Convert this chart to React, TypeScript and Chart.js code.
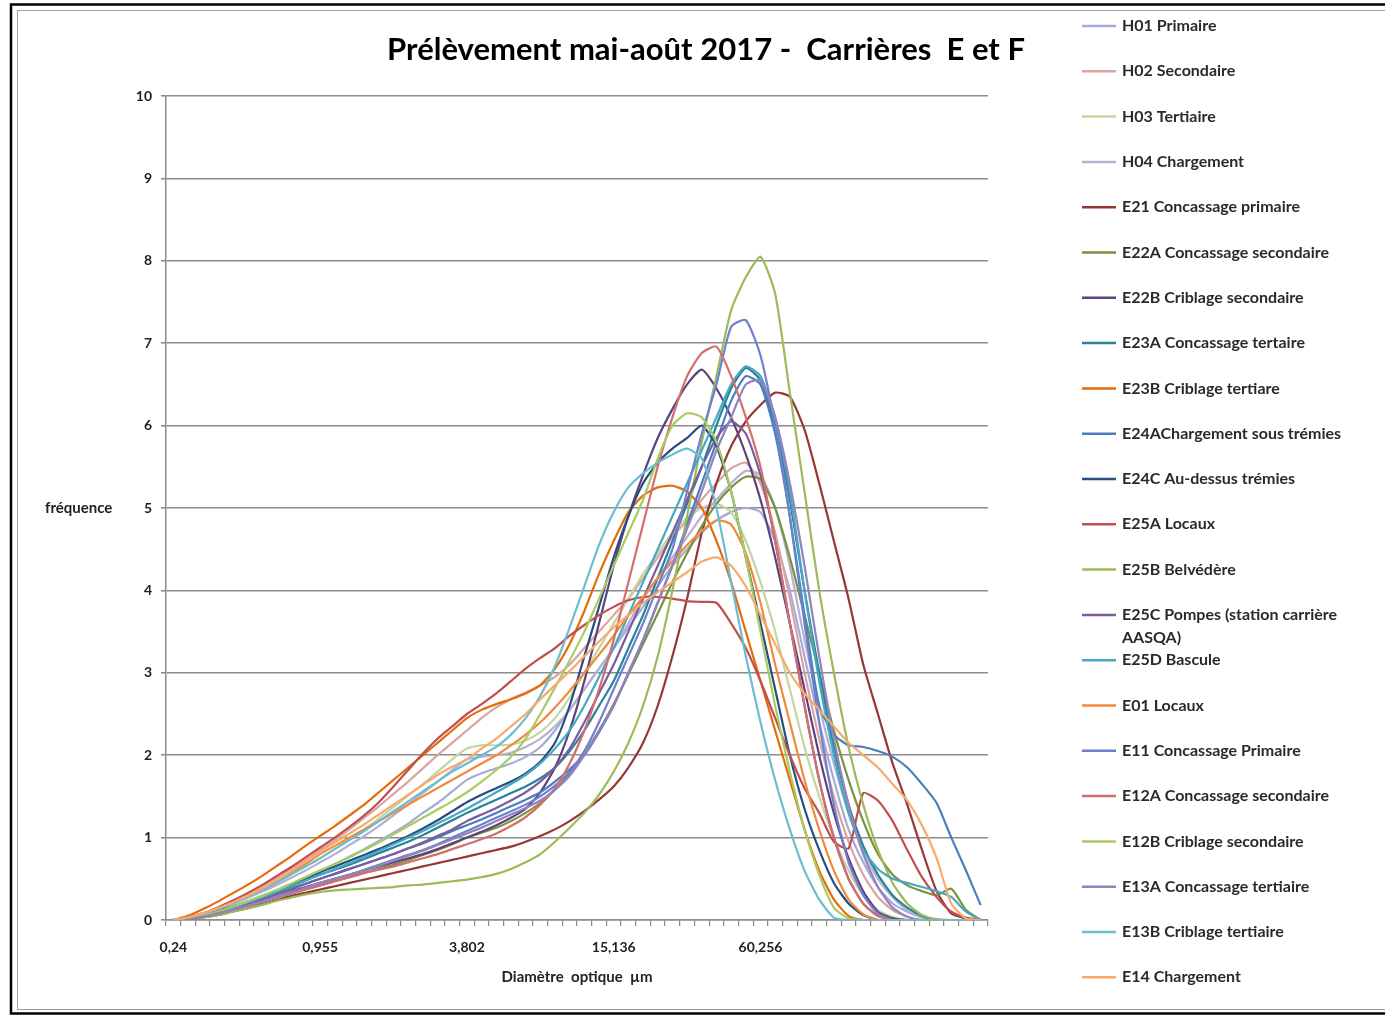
import React, { useEffect, useRef } from 'react';
import { Chart, registerables } from 'chart.js';

Chart.register(...registerables);

// Diamètre optique (µm) – categories
const categories = [
  '0,24', '0,275', '0,316', '0,363', '0,417', '0,479', '0,55', '0,631', '0,724', '0,832',
  '0,955', '1,096', '1,259', '1,445', '1,66', '1,905', '2,188', '2,512', '2,884', '3,311',
  '3,802', '4,365', '5,012', '5,754', '6,607', '7,586', '8,71', '10', '11,482', '13,183',
  '15,136', '17,378', '19,953', '22,909', '26,303', '30,2', '34,674', '39,811', '45,709', '52,481',
  '60,256', '69,183', '79,433', '91,201', '104,713', '120,226', '138,038', '158,489', '181,97', '208,93',
  '239,883', '275,423', '316,228', '363,078', '416,869', '478,63',
];
const labelEvery = 10;
const lastLabelled = 40;
const yTicks = [0, 1, 2, 3, 4, 5, 6, 7, 8, 9, 10];

const title = 'Prélèvement mai-août 2017 -  Carrières  E et F';
const xTitle = 'Diamètre  optique  µm';
const yTitle = 'fréquence';

const seriesNames = [
  'H01 Primaire', 'H02 Secondaire', 'H03 Tertiaire', 'H04 Chargement',
  'E21 Concassage primaire', 'E22A Concassage secondaire', 'E22B Criblage secondaire',
  'E23A Concassage tertaire', 'E23B Criblage tertiare', 'E24AChargement sous trémies',
  'E24C Au-dessus trémies', 'E25A Locaux', 'E25B Belvédère',
  'E25C Pompes (station carrière AASQA)', 'E25D Bascule', 'E01 Locaux',
  'E11 Concassage Primaire', 'E12A Concassage secondaire', 'E12B Criblage secondaire',
  'E13A Concassage tertiaire', 'E13B Criblage tertiaire', 'E14 Chargement',
];

const seriesColors = [
  '#a3acd8', '#dba4a2', '#c4d6a0', '#b7b0cf',
  '#953735', '#77933c', '#5d437c',
  '#2a8299', '#e46c0a', '#4a7ebf',
  '#2a4d7f', '#c0504d', '#9bbb59',
  '#7a5c9f', '#45a9c4', '#f08a3c',
  '#6f80cc', '#d46e6c', '#a9cc62',
  '#9283bc', '#6cbcd2', '#f8aa6c',
];

const H01 = [0, 0.02, 0.06, 0.11, 0.16, 0.22, 0.29, 0.36, 0.43, 0.52, 0.6, 0.68, 0.77, 0.86, 0.96, 1.06, 1.17, 1.3, 1.42, 1.56, 1.7, 1.78, 1.84, 1.9, 1.98, 2.1, 2.3, 2.55, 2.8, 3.05, 3.3, 3.55, 3.8, 4.05, 4.3, 4.5, 4.7, 4.85, 4.95, 5.0, 4.95, 4.6, 4.0, 3.2, 2.4, 1.7, 1.1, 0.7, 0.4, 0.2, 0.1, 0.03, 0, 0, 0, 0];
const H02 = [0, 0.03, 0.08, 0.15, 0.23, 0.32, 0.41, 0.51, 0.62, 0.73, 0.85, 0.97, 1.1, 1.24, 1.38, 1.53, 1.68, 1.84, 2.0, 2.15, 2.3, 2.45, 2.58, 2.68, 2.76, 2.85, 2.95, 3.1, 3.3, 3.5, 3.7, 3.9, 4.15, 4.4, 4.65, 4.85, 5.1, 5.3, 5.48, 5.55, 5.3, 4.7, 3.9, 3.0, 2.2, 1.5, 0.95, 0.55, 0.28, 0.12, 0.04, 0, 0, 0, 0, 0];
const H03 = [0, 0.03, 0.07, 0.13, 0.2, 0.28, 0.36, 0.45, 0.55, 0.65, 0.75, 0.86, 0.98, 1.1, 1.23, 1.37, 1.51, 1.65, 1.8, 1.95, 2.08, 2.12, 2.12, 2.13, 2.18, 2.28, 2.45, 2.7, 3.0, 3.3, 3.6, 3.9, 4.2, 4.45, 4.7, 4.88, 5.0, 5.05, 4.95, 4.6, 4.1, 3.5, 2.8, 2.1, 1.5, 1.0, 0.6, 0.3, 0.12, 0.04, 0, 0, 0, 0, 0, 0];
const H04 = [0, 0.02, 0.06, 0.12, 0.19, 0.26, 0.34, 0.42, 0.51, 0.6, 0.7, 0.8, 0.91, 1.02, 1.14, 1.27, 1.4, 1.54, 1.68, 1.82, 1.95, 1.98, 2.0, 2.03, 2.1, 2.2, 2.35, 2.55, 2.8, 3.05, 3.3, 3.6, 3.9, 4.15, 4.4, 4.65, 4.9, 5.1, 5.3, 5.45, 5.4, 5.0, 4.3, 3.4, 2.6, 1.9, 1.3, 0.85, 0.5, 0.28, 0.12, 0.04, 0, 0, 0, 0];
const E21 = [0, 0.01, 0.03, 0.06, 0.1, 0.14, 0.19, 0.24, 0.29, 0.33, 0.37, 0.41, 0.45, 0.49, 0.53, 0.57, 0.61, 0.65, 0.69, 0.73, 0.77, 0.81, 0.85, 0.89, 0.95, 1.02, 1.1, 1.2, 1.32, 1.46, 1.62, 1.85, 2.15, 2.6, 3.2, 3.9, 4.7, 5.3, 5.75, 6.05, 6.25, 6.4, 6.35, 5.95, 5.3, 4.6, 3.9, 3.1, 2.5, 1.9, 1.4, 0.85, 0.35, 0.08, 0.02, 0];
const E22A = [0, 0.01, 0.04, 0.08, 0.12, 0.17, 0.22, 0.27, 0.32, 0.37, 0.42, 0.47, 0.52, 0.57, 0.62, 0.67, 0.73, 0.79, 0.85, 0.92, 1.0, 1.06, 1.12, 1.2, 1.3, 1.42, 1.58, 1.78, 2.02, 2.3, 2.62, 2.98, 3.35, 3.72, 4.1, 4.45, 4.78, 5.05, 5.25, 5.38, 5.35, 5.0, 4.4, 3.7, 3.0, 2.3, 1.7, 1.2, 0.8, 0.55, 0.42, 0.35, 0.3, 0.38, 0.12, 0];
const E22B = [0, 0.01, 0.04, 0.08, 0.13, 0.18, 0.23, 0.28, 0.34, 0.4, 0.45, 0.5, 0.55, 0.6, 0.65, 0.7, 0.75, 0.8, 0.86, 0.93, 1.0, 1.07, 1.15, 1.24, 1.35, 1.55, 1.85, 2.3, 2.9, 3.6, 4.3, 4.9, 5.4, 5.85, 6.2, 6.5, 6.68, 6.45, 6.1, 5.65, 5.1, 4.4, 3.6, 2.8, 2.0, 1.3, 0.75, 0.35, 0.1, 0.02, 0, 0, 0, 0, 0, 0];
const E23A = [0, 0.02, 0.05, 0.1, 0.15, 0.21, 0.27, 0.33, 0.4, 0.48, 0.55, 0.61, 0.67, 0.74, 0.81, 0.88, 0.95, 1.03, 1.12, 1.21, 1.3, 1.38, 1.46, 1.54, 1.62, 1.72, 1.85, 2.05, 2.3, 2.6, 2.9, 3.3, 3.7, 4.15, 4.6, 5.05, 5.5, 6.0, 6.45, 6.7, 6.55, 6.0, 5.1, 4.0, 3.0, 2.1, 1.4, 0.9, 0.55, 0.3, 0.15, 0.05, 0, 0, 0, 0];
const E23B = [0, 0.05, 0.13, 0.22, 0.32, 0.42, 0.53, 0.65, 0.77, 0.9, 1.02, 1.14, 1.27, 1.4, 1.55, 1.7, 1.85, 2.0, 2.15, 2.3, 2.45, 2.55, 2.62, 2.68, 2.75, 2.85, 3.05, 3.35, 3.75, 4.2, 4.6, 4.95, 5.15, 5.25, 5.27, 5.2, 5.0, 4.6, 4.1, 3.5, 2.9, 2.3, 1.7, 1.1, 0.6, 0.25, 0.05, 0, 0, 0, 0, 0, 0, 0, 0, 0];
const E24A = [0, 0.02, 0.05, 0.09, 0.14, 0.19, 0.25, 0.31, 0.37, 0.44, 0.5, 0.56, 0.62, 0.68, 0.74, 0.8, 0.87, 0.93, 1.0, 1.08, 1.15, 1.22, 1.3, 1.38, 1.46, 1.55, 1.68, 1.83, 2.0, 2.28, 2.6, 3.0, 3.4, 3.85, 4.3, 4.8, 5.3, 5.8, 6.3, 6.6, 6.5, 5.9, 4.9, 3.7, 2.6, 2.25, 2.12, 2.1, 2.05, 1.98, 1.85, 1.65, 1.42, 1.0, 0.6, 0.18];
const E24C = [0, 0.02, 0.06, 0.11, 0.16, 0.22, 0.28, 0.35, 0.42, 0.5, 0.58, 0.65, 0.72, 0.79, 0.86, 0.94, 1.02, 1.11, 1.21, 1.32, 1.43, 1.52, 1.6, 1.68, 1.78, 1.92, 2.15, 2.6, 3.2, 3.8, 4.4, 4.9, 5.3, 5.55, 5.72, 5.85, 6.0, 5.75, 5.2, 4.4, 3.6, 2.8, 2.0, 1.35, 0.85, 0.45, 0.2, 0.06, 0, 0, 0, 0, 0, 0, 0, 0];
const E25A = [0, 0.03, 0.08, 0.15, 0.23, 0.32, 0.42, 0.53, 0.64, 0.76, 0.88, 1.0, 1.13, 1.27, 1.43, 1.62, 1.82, 2.02, 2.2, 2.35, 2.5, 2.62, 2.75, 2.9, 3.05, 3.18, 3.3, 3.45, 3.58, 3.7, 3.8, 3.88, 3.92, 3.92, 3.9, 3.87, 3.86, 3.85, 3.6, 3.3, 2.9, 2.45, 2.0, 1.6, 1.3, 0.95, 0.87, 1.54, 1.45, 1.2, 0.85, 0.52, 0.28, 0.1, 0.03, 0];
const E25B = [0, 0.01, 0.03, 0.06, 0.1, 0.14, 0.18, 0.23, 0.27, 0.31, 0.34, 0.36, 0.37, 0.38, 0.39, 0.4, 0.42, 0.43, 0.45, 0.47, 0.49, 0.52, 0.56, 0.62, 0.7, 0.8, 0.95, 1.12, 1.3, 1.52, 1.8, 2.15, 2.6, 3.2, 4.0, 4.9, 5.8, 6.6, 7.4, 7.8, 8.05, 7.6, 6.4, 5.2, 4.0, 3.0, 2.1, 1.4, 0.85, 0.45, 0.2, 0.06, 0.01, 0, 0, 0];
const E25C = [0, 0.02, 0.05, 0.09, 0.14, 0.19, 0.25, 0.31, 0.37, 0.44, 0.5, 0.56, 0.62, 0.68, 0.74, 0.8, 0.87, 0.94, 1.02, 1.1, 1.2, 1.28, 1.36, 1.45, 1.55, 1.68, 1.85, 2.08, 2.4, 2.75, 3.1, 3.5, 3.9, 4.3, 4.7, 5.1, 5.5, 5.85, 6.05, 5.9, 5.4, 4.6, 3.6, 2.6, 1.7, 1.0, 0.5, 0.2, 0.05, 0, 0, 0, 0, 0, 0, 0];
const E25D = [0, 0.02, 0.05, 0.1, 0.15, 0.21, 0.27, 0.34, 0.41, 0.48, 0.55, 0.62, 0.69, 0.76, 0.84, 0.92, 1.0, 1.08, 1.17, 1.26, 1.35, 1.45, 1.55, 1.65, 1.76, 1.9, 2.08, 2.3, 2.6, 2.95, 3.3, 3.7, 4.1, 4.5, 4.9, 5.3, 5.7, 6.1, 6.5, 6.72, 6.6, 6.1, 5.2, 4.0, 2.9, 2.0, 1.3, 0.85, 0.62, 0.5, 0.45, 0.4, 0.35, 0.28, 0.1, 0];
const E01 = [0, 0.03, 0.08, 0.14, 0.21, 0.29, 0.38, 0.47, 0.57, 0.68, 0.8, 0.9, 1.0, 1.1, 1.2, 1.3, 1.4, 1.5, 1.6, 1.7, 1.8, 1.9, 2.0, 2.12, 2.25, 2.4, 2.58, 2.78, 3.0, 3.22, 3.45, 3.7, 3.92, 4.15, 4.35, 4.55, 4.72, 4.85, 4.8, 4.45, 3.85, 3.1, 2.4, 1.7, 1.1, 0.6, 0.25, 0.07, 0, 0, 0, 0, 0, 0, 0, 0];
const E11 = [0, 0.01, 0.04, 0.08, 0.12, 0.17, 0.22, 0.27, 0.33, 0.39, 0.45, 0.5, 0.55, 0.61, 0.67, 0.73, 0.79, 0.85, 0.92, 1.0, 1.08, 1.16, 1.24, 1.32, 1.4, 1.5, 1.63, 1.8, 2.05, 2.4, 2.8, 3.2, 3.6, 4.05, 4.5, 5.2, 5.9, 6.5, 7.2, 7.28, 6.85, 6.0, 4.9, 3.6, 2.4, 1.4, 0.7, 0.3, 0.08, 0, 0, 0, 0, 0, 0, 0];
const E12A = [0, 0.01, 0.04, 0.08, 0.12, 0.17, 0.22, 0.27, 0.32, 0.37, 0.42, 0.47, 0.52, 0.57, 0.61, 0.65, 0.7, 0.75, 0.8, 0.86, 0.92, 0.98, 1.05, 1.14, 1.25, 1.4, 1.6, 1.9, 2.3, 2.8, 3.4, 4.1, 4.8, 5.5, 6.1, 6.6, 6.88, 6.96, 6.6, 6.1, 5.5, 4.6, 3.6, 2.6, 1.7, 1.0, 0.5, 0.2, 0.05, 0, 0, 0, 0, 0, 0, 0];
const E12B = [0, 0.02, 0.05, 0.1, 0.16, 0.22, 0.29, 0.36, 0.44, 0.52, 0.6, 0.68, 0.76, 0.85, 0.94, 1.04, 1.14, 1.24, 1.34, 1.44, 1.55, 1.68, 1.82, 1.98, 2.2, 2.5, 2.82, 3.15, 3.5, 3.9, 4.3, 4.7, 5.1, 5.6, 6.0, 6.15, 6.1, 5.8, 5.2, 4.4, 3.5, 2.6, 1.8, 1.1, 0.55, 0.15, 0.02, 0, 0, 0, 0, 0, 0, 0, 0, 0];
const E13A = [0, 0.01, 0.04, 0.08, 0.12, 0.17, 0.22, 0.28, 0.33, 0.39, 0.45, 0.5, 0.55, 0.6, 0.66, 0.72, 0.78, 0.84, 0.91, 0.98, 1.05, 1.12, 1.2, 1.28, 1.36, 1.45, 1.58, 1.75, 2.0, 2.3, 2.6, 3.0, 3.4, 3.85, 4.3, 4.75, 5.2, 5.7, 6.1, 6.5, 6.55, 6.1, 5.3, 4.3, 3.2, 2.2, 1.4, 0.8, 0.4, 0.15, 0.04, 0, 0, 0, 0, 0];
const E13B = [0, 0.03, 0.07, 0.13, 0.2, 0.28, 0.36, 0.45, 0.55, 0.65, 0.75, 0.86, 0.97, 1.08, 1.2, 1.32, 1.44, 1.56, 1.68, 1.8, 1.9, 2.0, 2.1, 2.25, 2.45, 2.72, 3.08, 3.55, 4.05, 4.55, 4.95, 5.25, 5.42, 5.55, 5.65, 5.72, 5.6, 5.0, 4.1, 3.2, 2.4, 1.7, 1.1, 0.6, 0.25, 0.03, 0, 0, 0, 0, 0, 0, 0, 0, 0, 0];
const E14 = [0, 0.03, 0.08, 0.14, 0.21, 0.29, 0.38, 0.48, 0.59, 0.71, 0.83, 0.94, 1.05, 1.16, 1.28, 1.4, 1.52, 1.64, 1.76, 1.86, 1.95, 2.08, 2.2, 2.35, 2.5, 2.68, 2.85, 3.02, 3.2, 3.38, 3.55, 3.7, 3.85, 3.98, 4.1, 4.22, 4.35, 4.4, 4.3, 4.05, 3.7, 3.35, 3.0, 2.75, 2.55, 2.35, 2.15, 2.0, 1.85, 1.65, 1.45, 1.15, 0.75, 0.2, 0.02, 0];

const seriesValues = [
  H01, H02, H03, H04, E21, E22A, E22B, E23A, E23B, E24A, E24C,
  E25A, E25B, E25C, E25D, E01, E11, E12A, E12B, E13A, E13B, E14,
];

const FONT = "Lato, 'Open Sans', 'DejaVu Sans', sans-serif";

function wrapText(ctx: CanvasRenderingContext2D, text: string, maxW: number): string[] {
  const words = text.split(' ');
  const lines: string[] = [];
  let cur = '';
  for (const w of words) {
    const test = cur ? cur + ' ' + w : w;
    if (ctx.measureText(test).width > maxW && cur) {
      lines.push(cur);
      cur = w;
    } else {
      cur = test;
    }
  }
  if (cur) lines.push(cur);
  return lines;
}

const decorPlugin = {
  id: 'decor',
  afterDraw(chart: any) {
    const c: CanvasRenderingContext2D = chart.ctx;
    const area = chart.chartArea;
    c.save();
    // frame
    c.strokeStyle = '#000';
    c.lineWidth = 2.5;
    c.strokeRect(11, 4.5, 1500, 1009);
    c.strokeStyle = '#a0a0a0';
    c.lineWidth = 1;
    c.strokeRect(17.5, 10.5, 1500, 999);

    // title
    c.fillStyle = '#000';
    c.textAlign = 'center';
    c.textBaseline = 'middle';
    let size = 27;
    c.font = `bold ${size}px ${FONT}`;
    const tw = c.measureText(title).width;
    size = size * 638 / tw;
    c.font = `bold ${size}px ${FONT}`;
    c.fillText(title, 706, 50);

    // axis titles
    c.fillStyle = '#222';
    c.font = `bold 15px ${FONT}`;
    c.textAlign = 'center';
    c.fillText(xTitle, (area.left + area.right) / 2, 977);
    c.textAlign = 'left';
    c.fillText(yTitle, 45, 508);

    // legend
    c.font = `bold 16px ${FONT}`;
    c.textBaseline = 'middle';
    c.textAlign = 'left';
    let y = 26;
    chart.data.datasets.forEach((ds: any) => {
      c.strokeStyle = ds.borderColor;
      c.lineWidth = 2.5;
      c.beginPath();
      c.moveTo(1082, y);
      c.lineTo(1116, y);
      c.stroke();
      c.fillStyle = '#2a2a2a';
      const lines = wrapText(c, ds.label, 250);
      lines.forEach((ln, k) => c.fillText(ln, 1122, y + k * 23));
      y += 45.3;
    });
    c.restore();
  },
};

export default function App() {
  const ref = useRef<HTMLCanvasElement>(null);
  useEffect(() => {
    const canvas = ref.current;
    if (!canvas) return;
    const n = seriesValues.length;
    const chart = new Chart(canvas, {
      type: 'line',
      data: {
        labels: categories,
        datasets: seriesValues.map((vals, i) => ({
          label: seriesNames[i],
          data: vals,
          borderColor: seriesColors[i],
          backgroundColor: seriesColors[i],
          borderWidth: 2.2,
          pointRadius: 0,
          tension: 0.2,
          fill: false,
          order: n - i,
        })),
      },
      options: {
        responsive: false,
        animation: false,
        devicePixelRatio: 1,
        layout: { padding: { left: 0, right: 397, top: 96, bottom: 40 } },
        plugins: {
          legend: { display: false },
          title: { display: false },
          tooltip: { enabled: false },
        },
        scales: {
          x: {
            type: 'category',
            offset: true,
            afterFit: (s: any) => { s.height = 56; },
            grid: {
              offset: true,
              drawOnChartArea: false,
              drawTicks: true,
              tickLength: 6,
              color: '#8c8c8c',
              lineWidth: 1.2,
            },
            border: { display: true, color: '#8c8c8c', width: 1.5 },
            ticks: {
              autoSkip: false,
              maxRotation: 0,
              minRotation: 0,
              padding: 13,
              color: '#222',
              font: { family: FONT, size: 14, weight: 'bold' },
              callback: (_v: any, idx: number) =>
                idx % labelEvery === 0 && idx <= lastLabelled ? categories[idx] : '',
            },
          },
          y: {
            min: yTicks[0],
            max: yTicks[yTicks.length - 1],
            afterFit: (s: any) => { s.width = 166; },
            afterBuildTicks: (s: any) => { s.ticks = yTicks.map((v) => ({ value: v })); },
            grid: {
              color: '#8c8c8c',
              lineWidth: 1.6,
              drawTicks: true,
              tickLength: 5,
            },
            border: { display: true, color: '#8c8c8c', width: 1.5 },
            ticks: {
              padding: 9,
              color: '#222',
              font: { family: FONT, size: 14, weight: 'bold' },
            },
          },
        },
      },
      plugins: [decorPlugin],
    });
    return () => chart.destroy();
  }, []);
  return (
    <div style={{ position: 'absolute', left: 0, top: 0, width: 1385, height: 1016, background: '#fff' }}>
      <canvas ref={ref} width={1385} height={1016} />
    </div>
  );
}
